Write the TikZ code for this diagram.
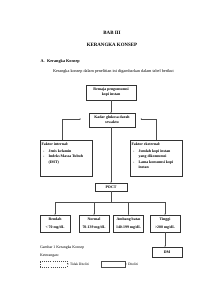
\documentclass[tikz,border=0pt]{standalone}
\usepackage{fontspec}
\setmainfont{Liberation Serif}
\usetikzlibrary{arrows.meta}
\begin{document}
\begin{tikzpicture}[x=1mm,y=-1mm,
  box/.style={draw=black!80, line width=0.5pt, font=\fontsize{11}{14}\selectfont\bfseries, align=center, inner sep=0pt},
  conn/.style={draw=black!70, line width=0.5pt, -{Stealth[length=1.3mm,width=1.1mm]}},
  plain/.style={draw=black!70, line width=0.5pt},
  txt/.style={inner sep=0pt, anchor=base west},
  bodyfont/.style={font=\fontsize{12}{14}\selectfont},
  capfont/.style={font=\fontsize{11}{13}\selectfont},
  legfont/.style={font=\fontsize{10}{12}\selectfont}]
\useasboundingbox (0,0) rectangle (212,300);

% headings
\node[inner sep=0pt, anchor=base, font=\fontsize{14}{16}\selectfont\bfseries] (bab) at (112,34.5) {BAB III};
\node[inner sep=0pt, anchor=base, font=\fontsize{14}{16}\selectfont\bfseries] (judul) at (112,46.5) {KERANGKA KONSEP};
\node[txt, font=\fontsize{12}{14}\selectfont\bfseries] (secA) at (40.5,62.5) {A.};
\node[txt, font=\fontsize{12}{14}\selectfont\bfseries] (secAt) at (47,62.5) {Kerangka Konsep};
\node[txt, bodyfont] (intro) at (53,72.5) {Kerangka konsep dalam penelitian ini digambarkan dalam tabel berikut};

% main boxes
\node[box, minimum width=50mm, minimum height=15mm] (b1) at (111,92.5) {Remaja pengonsumsi\\kopi instan};
\node[box, minimum width=46mm, minimum height=13.5mm] (b2) at (112,120) {Kadar glukosa darah\\sewaktu};

\node[box, anchor=north west, align=left, minimum width=52mm, minimum height=36mm, inner sep=0pt] (fi) at (40,140)
  {\parbox[t][35mm][t]{49mm}{\vspace*{2.2mm}\setlength{\baselineskip}{5.5mm}Faktor internal:\par\vspace{1.4mm}%
   \makebox[7mm][l]{\hspace*{1.5mm}-}Jenis kelamin\par
   \makebox[7mm][l]{\hspace*{1.5mm}-}Indeks Massa Tubuh\par
   \hspace*{7mm}(IMT)}};
\node[box, anchor=north west, align=left, minimum width=52mm, minimum height=36mm, inner sep=0pt] (fe) at (130,140)
  {\parbox[t][35mm][t]{49mm}{\vspace*{2.2mm}\setlength{\baselineskip}{5.5mm}Faktor eksternal:\par\vspace{1.4mm}%
   \makebox[7mm][l]{\hspace*{1.5mm}-}Jumlah kopi instan\par
   \hspace*{7mm}yang dikonsumsi\par
   \makebox[7mm][l]{\hspace*{1.5mm}-}Lama konsumsi kopi\par
   \hspace*{7mm}instan}};

\node[box, minimum width=32mm, minimum height=8mm] (poct) at (111,187) {POCT};

% result boxes
\node[box, minimum width=30mm, minimum height=17mm] (r1) at (55,223.5) {Rendah\\[3mm]\textless{} 70 mg/dL};
\node[box, minimum width=30mm, minimum height=17mm] (r2) at (94,223.5) {Normal\\[3mm]70-139 mg/dL};
\node[box, minimum width=30mm, minimum height=17mm] (r3) at (128.5,223.5) {Ambang batas\\[3mm]140-199 mg/dL};
\node[box, minimum width=30mm, minimum height=17mm] (r4) at (165,223.5) {Tinggi\\[3mm]\textgreater200 mg/dL};

\node[box, minimum width=30mm, minimum height=10mm] (dm) at (167,252) {DM};

% connectors
\draw[conn] (b1.south) -- (b1.south |- b2.north);
\coordinate (lend) at (81,119);
\coordinate (rend) at (140.5,119);
\coordinate (lcorner) at (62,119);
\coordinate (rcorner) at (156,119);
\draw[conn] (lcorner |- fi.north) -- (lcorner) -- (lend);
\draw[conn] (rcorner |- fe.north) -- (rcorner) -- (rend);
\draw[conn] (poct.north |- b2.south) -- (poct.north);

\coordinate (split) at (111,202);
\draw[plain] (poct.south) -- (split);
\draw[plain] (r1.north |- split) -- (r4.north |- split);
\draw[conn] (r1.north |- split) -- (r1.north);
\draw[conn] (r2.north |- split) -- (r2.north);
\draw[conn] (r3.north |- split) -- (r3.north);
\draw[conn] (r4.north |- split) -- (r4.north);
\draw[conn] (r4.south) -- (r4.south |- dm.north);

% caption and legend
\node[txt, capfont] (cap) at (40,248.5) {Gambar 1 Kerangka Konsep};
\node[txt, capfont] (ket) at (40,256.5) {Keterangan:};
\node[draw=black!70, line width=0.5pt, dashed, minimum width=27mm, minimum height=6mm, inner sep=0pt] (lg1) at (53.5,264) {};
\node[txt, legfont, anchor=west] (lg1t) at (lg1.east) {= Tidak Diteliti};
\node[draw=black!70, line width=0.5pt, minimum width=24mm, minimum height=6mm, inner sep=0pt] (lg2) at (113,264) {};
\node[txt, legfont, anchor=west] (lg2t) at (lg2.east) {= Diteliti};
\end{tikzpicture}
\end{document}
